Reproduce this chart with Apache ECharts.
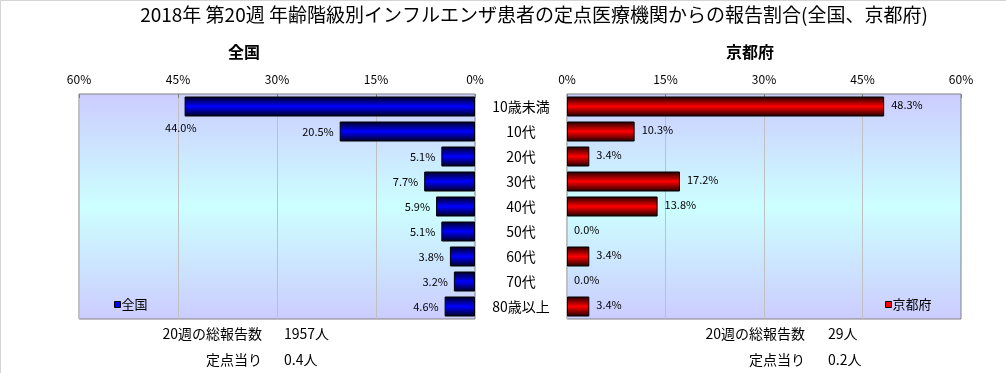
<!DOCTYPE html>
<html><head><meta charset="utf-8">
<script src="https://cdn.jsdelivr.net/npm/echarts@6/dist/echarts.min.js"></script>
<style>html,body{margin:0;padding:0;background:#fff}#c{width:1006px;height:373px}</style>
</head><body><div id="c"></div>
<script>
// ---- data ----
const categories = ['10歳未満','10代','20代','30代','40代','50代','60代','70代','80歳以上'];
const nationalValues = [44.0,20.5,5.1,7.7,5.9,5.1,3.8,3.2,4.6];
const kyotoValues = [48.3,10.3,3.4,17.2,13.8,0.0,3.4,0.0,3.4];
const axisTicks = [0,15,30,45,60];
const seriesNames = ['全国','京都府'];
const titleText = '2018年 第20週 年齢階級別インフルエンザ患者の定点医療機関からの報告割合(全国、京都府)';
const nationalStats = ['20週の総報告数','1957人','定点当り','0.4人'];
const kyotoStats = ['20週の総報告数','29人','定点当り','0.2人'];

// ---- styling ----
const FONT = "'MS PGothic','Noto Sans CJK JP','Noto Sans',sans-serif";
const G = echarts.graphic.LinearGradient;
const bgGrad = () => new G(0,0,0,1,[{offset:0,color:'#ccccff'},{offset:0.5,color:'#ccffff'},{offset:1,color:'#ccccff'}]);
const blueGrad = new G(0,0,0,1,[{offset:0,color:'#00001a'},{offset:0.5,color:'#0000ff'},{offset:1,color:'#00001a'}]);
const redGrad = new G(0,0,0,1,[{offset:0,color:'#1a0000'},{offset:0.5,color:'#ff0000'},{offset:1,color:'#1a0000'}]);
const tickMin = axisTicks[0], tickMax = axisTicks[axisTicks.length-1], tickStep = axisTicks[1]-axisTicks[0];

function xAxisCfg(gridIndex, inverse){
  return {
    type:'value', gridIndex, inverse, position:'top', min:tickMin, max:tickMax, interval:tickStep,
    axisLine:{show:false},
    axisTick:{show:true, inside:true, length:4, lineStyle:{color:'#808080'}},
    splitLine:{show:true, lineStyle:{color:'#c0c0c0', width:1}},
    axisLabel:{formatter:'{value}%', fontSize:12, color:'#000', margin:9, fontFamily:FONT}
  };
}

function toItems(values){
  return values.map(v=>{
    const d = {value:v};
    if (v===0) d.itemStyle = {borderWidth:0};
    return d;
  });
}
const nationalData = toItems(nationalValues);
nationalData[0].label = {offset:[18,21]};
const kyotoData = toItems(kyotoValues);

function txt(text,x,y,size,align,bold){
  return {type:'text', x, y, silent:true, style:{text, fontSize:size, fontFamily:FONT, fill:'#000',
    align, verticalAlign:'middle', fontWeight: bold?'bold':'normal'}};
}

const option = {
  animation:false,
  textStyle:{fontFamily:FONT},
  grid:[
    {left:79, top:94, width:396, height:225, show:true, backgroundColor:bgGrad(), borderColor:'#808080', borderWidth:1},
    {left:567, top:94, width:394, height:225, show:true, backgroundColor:bgGrad(), borderColor:'#808080', borderWidth:1}
  ],
  xAxis:[xAxisCfg(0,true), xAxisCfg(1,false)],
  yAxis:[
    {type:'category', gridIndex:0, data:categories, inverse:true, axisLine:{show:false}, axisTick:{show:false}, axisLabel:{show:false}},
    {type:'category', gridIndex:1, data:categories, inverse:true, axisLine:{show:false}, axisTick:{show:false},
      axisLabel:{show:true, align:'center', margin:46, fontSize:14, color:'#000', padding:[11,0,0,0], fontFamily:FONT}}
  ],
  legend:[
    {data:[{name:seriesNames[0], itemStyle:{color:'#0000ff', borderColor:'#000', borderWidth:1}}],
      left:114, top:298, icon:'rect', itemWidth:6, itemHeight:6, padding:0, selectedMode:false,
      textStyle:{fontSize:13, color:'#000', padding:[0,0,0,-4], fontFamily:FONT}},
    {data:[{name:seriesNames[1], itemStyle:{color:'#ff0000', borderColor:'#000', borderWidth:1}}],
      left:885, top:298, icon:'rect', itemWidth:6, itemHeight:6, padding:0, selectedMode:false,
      textStyle:{fontSize:13, color:'#000', padding:[0,0,0,-4], fontFamily:FONT}}
  ],
  series:[
    {name:seriesNames[0], type:'bar', xAxisIndex:0, yAxisIndex:0, data:nationalData, barWidth:'80%',
      itemStyle:{color:blueGrad, borderColor:'#000', borderWidth:1},
      label:{show:true, position:'left', distance:6, fontSize:11, color:'#000', fontFamily:FONT,
        formatter:p=>p.value.toFixed(1)+'%'}},
    {name:seriesNames[1], type:'bar', xAxisIndex:1, yAxisIndex:1, data:kyotoData, barWidth:'80%',
      itemStyle:{color:redGrad, borderColor:'#000', borderWidth:1},
      label:{show:true, position:'right', distance:7, offset:[0,-2], fontSize:11, color:'#000', fontFamily:FONT,
        formatter:p=>p.value.toFixed(1)+'%'}}
  ],
  graphic:[
    {type:'polyline', silent:true, shape:{points:[[0.5,373],[0.5,0.5],[1006,0.5]]}, style:{stroke:'#d4d4d4', fill:null, lineWidth:1}},
    txt(titleText, 534, 15, 19, 'center', false),
    txt(seriesNames[0], 244, 52, 16, 'center', true),
    txt(seriesNames[1], 750, 52, 16, 'center', true),
    txt(nationalStats[0], 262, 334, 14, 'right'),
    txt(nationalStats[1], 284, 334, 14, 'left'),
    txt(nationalStats[2], 262, 360, 14, 'right'),
    txt(nationalStats[3], 284, 360, 14, 'left'),
    txt(kyotoStats[0], 805, 334, 14, 'right'),
    txt(kyotoStats[1], 828, 334, 14, 'left'),
    txt(kyotoStats[2], 805, 360, 14, 'right'),
    txt(kyotoStats[3], 828, 360, 14, 'left')
  ]
};
echarts.init(document.getElementById('c'), null, {renderer:'canvas'}).setOption(option);
</script></body></html>
